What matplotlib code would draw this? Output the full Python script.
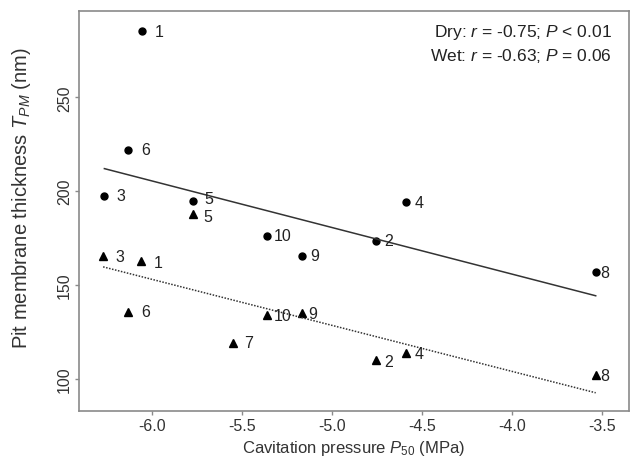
import matplotlib
matplotlib.use("Agg")
import matplotlib.pyplot as plt
import numpy as np

plt.rcParams['font.family'] = ['Liberation Sans', 'DejaVu Sans']
plt.rcParams['mathtext.fontset'] = 'custom'
plt.rcParams['mathtext.rm'] = 'Liberation Sans'
plt.rcParams['mathtext.it'] = 'Liberation Sans:italic'

# species numbers and values
dry_ids = ['1', '2', '3', '4', '5', '6', '8', '9', '10']
dry_p50 = [-6.055, -4.756, -6.263, -4.587, -5.770, -6.130, -3.533, -5.165, -5.358]
dry_tpm = [285.3, 173.6, 197.7, 194.1, 195.0, 222.0, 156.8, 165.7, 176.3]

wet_ids = ['1', '2', '3', '4', '5', '6', '7', '8', '9', '10']
wet_p50 = [-6.060, -4.754, -6.270, -4.586, -5.772, -6.130, -5.547, -3.533, -5.167, -5.360]
wet_tpm = [162.8, 110.1, 165.4, 113.8, 187.9, 135.9, 119.2, 102.1, 135.0, 134.0]

# regression lines (slope, intercept)
dry_fit = (-24.8, 56.7)
wet_fit = (-24.5, 6.1)

stats_text = ["Dry: $r$ = -0.75; $P$ < 0.01",
              "Wet: $r$ = -0.63; $P$ = 0.06"]

# label offsets in points (dx, dy)
dry_off = {'1': (9, 0), '2': (6, 0), '3': (9, 0), '4': (6, 0), '5': (8, 1.5),
           '6': (9, 0), '8': (3, 0), '9': (6, 0), '10': (5, 0)}
wet_off = {'1': (9, -1), '2': (6, -1), '3': (9, 0), '4': (6, 0), '5': (8, -2),
           '6': (9, 0), '7': (8, 0), '8': (3, 0), '9': (5, 0), '10': (5, 0)}

fig = plt.figure(figsize=(6.3, 4.6), dpi=100)
ax = fig.add_axes([79 / 630, 48 / 460, 550 / 630, 400 / 460])

ax.plot(dry_p50, dry_tpm, 'o', color='black', ms=5)
ax.plot(wet_p50, wet_tpm, '^', color='black', ms=6)

for ids, xs, ys, off in [(dry_ids, dry_p50, dry_tpm, dry_off),
                         (wet_ids, wet_p50, wet_tpm, wet_off)]:
    for i, x, y in zip(ids, xs, ys):
        ax.annotate(i, (x, y), xytext=off[i], textcoords='offset points',
                    ha='left', va='center', fontsize=11.5, color='#222222')

xd = np.array([min(dry_p50), max(dry_p50)])
ax.plot(xd, dry_fit[0] * xd + dry_fit[1], '-', color='#333333', lw=1.1)
xw = np.array([min(wet_p50), max(wet_p50)])
ax.plot(xw, wet_fit[0] * xw + wet_fit[1], color='#333333', lw=1.1,
        linestyle=(0, (1, 1)))

ax.text(0.969, 0.972, "\n".join(stats_text), transform=ax.transAxes,
        ha='right', va='top', fontsize=12.5, color='#222222', linespacing=1.35)

ax.set_xlim(-6.404, -3.348)
ax.set_ylim(82.96, 295.95)
ax.set_xticks([-6.0, -5.5, -5.0, -4.5, -4.0, -3.5])
ax.set_xticklabels(['-6.0', '-5.5', '-5.0', '-4.5', '-4.0', '-3.5'])
ax.set_yticks([100, 150, 200, 250])
ax.set_yticklabels(['100', '150', '200', '250'], rotation=90, va='center')

for s in ax.spines.values():
    s.set_color('#8a8a8a')
    s.set_linewidth(1.2)
ax.tick_params(colors='#8a8a8a', labelcolor='#333333', labelsize=11.5,
               length=3, width=1, pad=2)

ax.set_xlabel("Cavitation pressure $P_{\\mathit{50}}$ (MPa)", fontsize=12,
              color='#333333', labelpad=4)
ax.set_ylabel("Pit membrane thickness $T_{\\mathit{PM}}$ (nm)", fontsize=14.5,
              color='#333333')
ax.yaxis.set_label_coords(-0.083, 0.535)

fig.savefig("out.png", dpi=100)
